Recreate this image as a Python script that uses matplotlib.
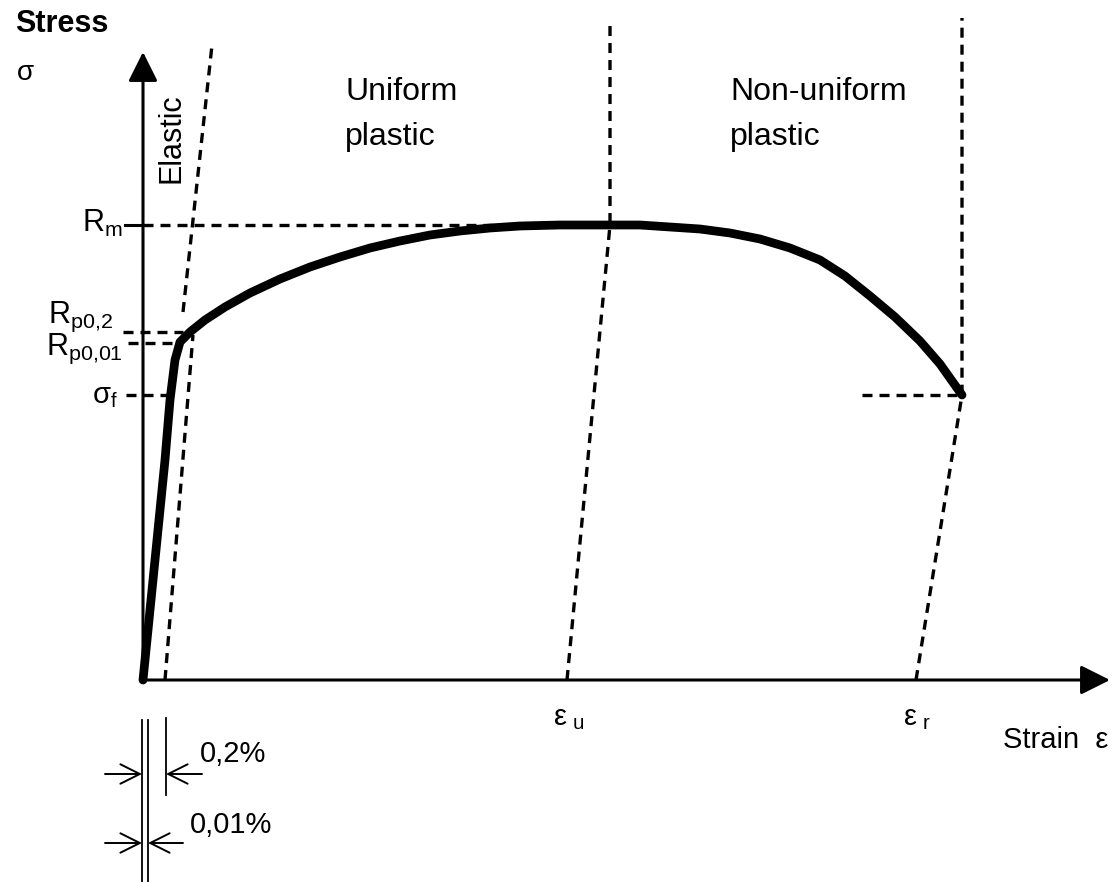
import matplotlib.pyplot as plt

plt.rcParams['font.family'] = ['Liberation Sans', 'DejaVu Sans']

# schematic stress-strain curve (arbitrary units, origin at 0,0)
strain = [0, 7, 15, 22, 27, 32, 37, 47, 62, 82, 107, 137, 167, 197, 227, 257,
          287, 317, 347, 377, 417, 457, 497, 527, 557, 587, 617, 647, 677,
          702, 727, 752, 777, 797, 819]
stress = [0, 70, 150, 220, 280, 320, 338, 348, 360, 373, 387, 401, 413, 423,
          432, 439, 445, 449, 452, 454, 455, 455, 455, 453, 451, 447, 441,
          432, 420, 404, 384, 363, 339, 316, 285]

# characteristic values
R_m = 455
R_p02 = 348
R_p001 = 337
sigma_f = 285
eps_u = 424
eps_r = 773
off_02 = 22      # 0,2% offset
off_001 = 5      # 0,01% offset
E = 9.2          # elastic slope

# guide lines
elastic_ext_x = [40, 69]
offset_x = [off_02, 50]
offset_y = [0, 345]
u_line_x = [eps_u, 467, 467]
u_line_y = [0, R_m, 655]
r_line_x = [eps_r, 819, 819]
r_line_y = [0, sigma_f, 662]

fig = plt.figure(figsize=(11.12, 8.82), dpi=100)
ax = fig.add_axes([0, 0, 1, 1])
ax.set_xlim(-143, 969)
ax.set_ylim(-202, 680)
ax.axis('off')

dash = dict(color='black', lw=2.4, linestyle=(0, (3.0, 2.1)))

ax.plot(elastic_ext_x, [E * x for x in elastic_ext_x], **dash)
ax.plot(offset_x, offset_y, **dash)
ax.plot(u_line_x, u_line_y, **dash)
ax.plot(r_line_x, r_line_y, **dash)

# horizontal markers
ax.plot([-18, 0], [R_m, R_m], color='black', lw=2.2)
ax.plot([0, 467], [R_m, R_m], **dash)
ax.plot([-20, 40], [R_p02, R_p02], **dash)
ax.plot([-15, 35], [R_p001, R_p001], **dash)
ax.plot([-17, 27], [sigma_f, sigma_f], **dash)
ax.plot([719, 819], [sigma_f, sigma_f], **dash)

# the curve
ax.plot(strain, stress, color='black', lw=6.3, solid_capstyle='round',
        solid_joinstyle='round')

# axes arrows
arrow = dict(arrowstyle='-|>,head_length=0.4,head_width=0.2', color='black',
             lw=2.2, mutation_scale=45, shrinkA=0, shrinkB=0)
ax.annotate('', xy=(0, 628), xytext=(0, 0), arrowprops=arrow)
ax.annotate('', xy=(967, 0), xytext=(0, 0), arrowprops=arrow)

# texts
ax.text(-128, 648, 'Stress', fontsize=22, fontweight='bold', va='baseline')
ax.text(-126, 600, 'σ', fontsize=20, va='baseline')
ax.text(28, 542, 'Elastic', fontsize=22, rotation=90, ha='center', va='center')
ax.text(202, 580, 'Uniform', fontsize=23, va='baseline')
ax.text(202, 535, 'plastic', fontsize=23, va='baseline')
ax.text(587, 580, 'Non-uniform', fontsize=23, va='baseline')
ax.text(587, 535, 'plastic', fontsize=23, va='baseline')

ax.text(-20, 448, r'$\mathregular{R_m}$', fontsize=22, ha='right', va='baseline')
ax.text(-30, 357, r'$\mathregular{R_{p0{,}2}}$', fontsize=22, ha='right', va='baseline')
ax.text(-20, 325, r'$\mathregular{R_{p0{,}01}}$', fontsize=22, ha='right', va='baseline')
ax.text(-25, 277, r'$\mathregular{σ_f}$', fontsize=21, ha='right', va='baseline')

ax.text(410, -45, r'$\mathregular{ε_{\ u}}$', fontsize=21, va='baseline')
ax.text(760, -45, r'$\mathregular{ε_{\ r}}$', fontsize=21, va='baseline')
ax.text(965, -68, 'Strain  ε', fontsize=21, ha='right', va='baseline')

# offset dimension marks
ax.plot([-1, -1], [-40, -202], color='black', lw=1.3)
ax.plot([off_001, off_001], [-40, -202], color='black', lw=1.3)
ax.plot([off_02 + 1, off_02 + 1], [-38, -115], color='black', lw=1.3)
dim = dict(arrowstyle='->,head_length=0.5,head_width=0.25', color='black',
           lw=1.4, mutation_scale=28, shrinkA=0, shrinkB=0)
ax.annotate('', xy=(-1, -94), xytext=(-38, -94), arrowprops=dim)
ax.annotate('', xy=(off_02 + 1, -94), xytext=(59, -94), arrowprops=dim)
ax.annotate('', xy=(-1, -163), xytext=(-38, -163), arrowprops=dim)
ax.annotate('', xy=(off_001, -163), xytext=(40, -163), arrowprops=dim)
ax.text(57, -82, '0,2%', fontsize=21, va='baseline')
ax.text(47, -153, '0,01%', fontsize=21, va='baseline')

fig.savefig('out.png', dpi=100)
